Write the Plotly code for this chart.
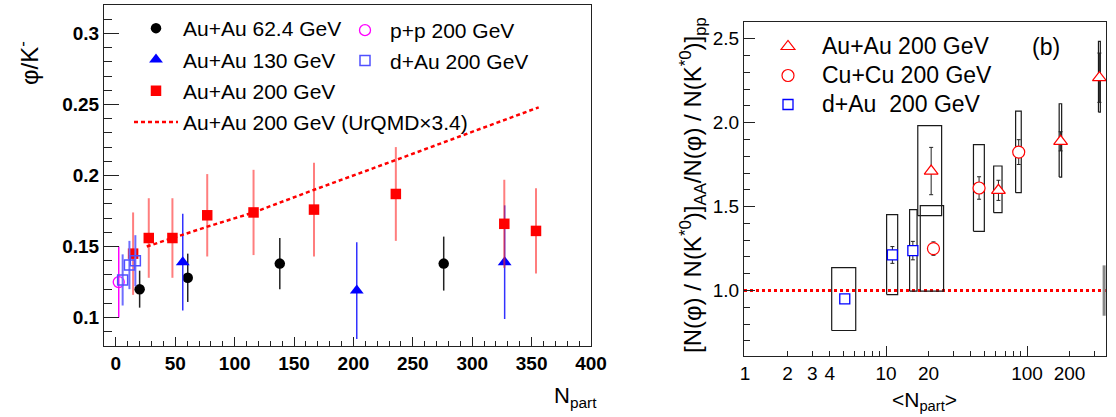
import plotly.graph_objects as go

# ---------------- Left panel data: phi/K- vs Npart ----------------
npart_624 = [20.0, 60.5, 138.0, 276.0]
ratio_624 = [0.120, 0.128, 0.138, 0.138]
err_624 = [0.013, 0.017, 0.018, 0.019]

npart_130 = [56.3, 202.8, 327.3]
ratio_130 = [0.139, 0.119, 0.139]
err_130 = [0.034, 0.034, 0.040]

npart_200 = [14.5, 27.7, 47.6, 76.9, 115.9, 166.8, 235.7, 327.0, 353.7]
ratio_200 = [0.145, 0.156, 0.156, 0.172, 0.174, 0.176, 0.187, 0.166, 0.161]
err_200 = [0.029, 0.028, 0.028, 0.029, 0.030, 0.033, 0.033, 0.031, 0.030]

npart_pp = [2.4]
ratio_pp = [0.125]
err_pp = [0.025]

npart_dau_l = [5.7, 11.4, 16.4]
ratio_dau_l = [0.1265, 0.137, 0.140]
err_dau_l = [0.018, 0.017, 0.018]

npart_urqmd = [26, 48, 77, 116, 167, 236, 356]
ratio_urqmd = [0.150, 0.156, 0.164, 0.174, 0.190, 0.211, 0.248]

left_xticks = [0, 50, 100, 150, 200, 250, 300, 350, 400]
left_yticks = [0.1, 0.15, 0.2, 0.25, 0.3]
left_yticktext = ["0.1", "0.15", "0.2", "0.25", "0.3"]

# ---------------- Right panel data: double ratio vs <Npart> ----------------
npart_auau = [20.9, 62.7, 173.0, 326.0]
dr_auau = [1.712, 1.597, 1.889, 2.268]
stat_auau = [0.141, 0.060, 0.057, 0.147]
sys_auau_xlo = [16.8, 58.0, 169.0, 321.0]
sys_auau_xhi = [24.8, 66.5, 176.0, 331.0]
sys_auau_ylo = [1.446, 1.464, 1.676, 2.063]
sys_auau_yhi = [1.982, 1.742, 2.113, 2.484]

npart_cucu = [21.7, 45.7, 87.3]
dr_cucu = [1.250, 1.611, 1.825]
stat_cucu = [0.040, 0.067, 0.074]
sys_cucu_xlo = [17.5, 41.7, 83.0]
sys_cucu_xhi = [25.6, 49.8, 91.0]
sys_cucu_ylo = [0.996, 1.353, 1.583]
sys_cucu_yhi = [1.506, 1.869, 2.069]

npart_dau = [5.1, 11.1, 15.5]
dr_dau = [0.950, 1.212, 1.238]
stat_dau = [0.020, 0.050, 0.055]
sys_dau_xlo = [4.12, 10.1, 14.7]
sys_dau_xhi = [6.1, 12.1, 16.6]
sys_dau_ylo = [0.762, 0.976, 0.996]
sys_dau_yhi = [1.137, 1.452, 1.482]

norm_x = [352.0]
norm_center = [1.0]
norm_err = [0.15]

right_xticks = [1, 2, 3, 4, 10, 20, 100, 200]
right_xlong = [1, 10, 100]
right_xminor = [5, 6, 7, 8, 9, 30, 40, 50, 60, 70, 80, 90, 300]
right_yticks = [1.0, 1.5, 2.0, 2.5]
right_yticktext = ["1.0", "1.5", "2.0", "2.5"]

W, H = 1116, 417
FONT = "Liberation Sans, Arial, Helvetica, sans-serif"


def px_x(p):
    return p / W


def px_y(p):
    return 1 - p / H


fig = go.Figure()

# ---- left panel traces ----
fig.add_trace(go.Scatter(
    x=npart_624, y=ratio_624, mode="markers", name="Au+Au 62.4 GeV",
    marker=dict(symbol="circle", size=10.5, color="black"),
    error_y=dict(type="data", array=err_624, color="#222222", thickness=1.5, width=0),
    xaxis="x", yaxis="y", legend="legend", legendgroup="a"))
fig.add_trace(go.Scatter(
    x=npart_130, y=ratio_130, mode="markers", name="Au+Au 130 GeV",
    marker=dict(symbol="triangle-up", size=12, color="blue"),
    error_y=dict(type="data", array=err_130, color="rgb(50,50,255)", thickness=1.5, width=0),
    xaxis="x", yaxis="y", legend="legend", legendgroup="b"))
fig.add_trace(go.Scatter(
    x=npart_200, y=ratio_200, mode="markers", name="Au+Au 200 GeV",
    marker=dict(symbol="square", size=10.5, color="red"),
    error_y=dict(type="data", array=err_200, color="rgba(255,40,40,0.6)", thickness=2, width=0),
    xaxis="x", yaxis="y", legend="legend", legendgroup="c"))
fig.add_trace(go.Scatter(
    x=npart_urqmd, y=ratio_urqmd, mode="lines", name="Au+Au 200 GeV (UrQMD\u00d73.4)",
    line=dict(color="red", width=2.5, dash="4px,3px"),
    xaxis="x", yaxis="y", legend="legend", legendgroup="d"))
fig.add_trace(go.Scatter(
    x=npart_pp, y=ratio_pp, mode="markers", name="p+p 200 GeV",
    marker=dict(symbol="circle-open", size=11, color="magenta", line=dict(width=1.3)),
    error_y=dict(type="data", array=err_pp, color="magenta", thickness=1.5, width=0),
    xaxis="x", yaxis="y", legend="legend2"))
fig.add_trace(go.Scatter(
    x=npart_dau_l, y=ratio_dau_l, mode="markers", name="d+Au 200 GeV",
    marker=dict(symbol="square-open", size=10, color="rgb(80,80,255)", line=dict(width=1.5)),
    error_y=dict(type="data", array=err_dau_l, color="rgb(110,110,255)", thickness=2, width=0),
    xaxis="x", yaxis="y", legend="legend2"))

# ---- right panel: systematic boxes ----
bx, by = [], []
for xlo, xhi, ylo, yhi in zip(sys_dau_xlo + sys_cucu_xlo + sys_auau_xlo,
                              sys_dau_xhi + sys_cucu_xhi + sys_auau_xhi,
                              sys_dau_ylo + sys_cucu_ylo + sys_auau_ylo,
                              sys_dau_yhi + sys_cucu_yhi + sys_auau_yhi):
    bx += [xlo, xhi, xhi, xlo, xlo, None]
    by += [ylo, ylo, yhi, yhi, ylo, None]
fig.add_trace(go.Scatter(
    x=bx, y=by, mode="lines", line=dict(color="#1a1a1a", width=1.2),
    showlegend=False, hoverinfo="skip", xaxis="x2", yaxis="y2"))

# normalization uncertainty bar
fig.add_trace(go.Scatter(
    x=norm_x + norm_x, y=[norm_center[0] - norm_err[0], norm_center[0] + norm_err[0]],
    mode="lines", line=dict(color="#888888", width=3),
    showlegend=False, hoverinfo="skip", xaxis="x2", yaxis="y2"))

fig.add_trace(go.Scatter(
    x=npart_auau, y=dr_auau, mode="markers", name='<span style="font-size:23px">Au+Au 200 GeV</span>',
    marker=dict(symbol="triangle-up", size=12, color="white", line=dict(width=1.2, color="red")),
    error_y=dict(type="data", array=stat_auau, color="#222222", thickness=1, width=2),
    xaxis="x2", yaxis="y2", legend="legend3"))
fig.add_trace(go.Scatter(
    x=npart_cucu, y=dr_cucu, mode="markers", name='<span style="font-size:23px">Cu+Cu 200 GeV</span>',
    marker=dict(symbol="circle", size=12, color="white", line=dict(width=1.2, color="red")),
    error_y=dict(type="data", array=stat_cucu, color="#222222", thickness=1, width=2),
    xaxis="x2", yaxis="y2", legend="legend3"))
fig.add_trace(go.Scatter(
    x=npart_dau, y=dr_dau, mode="markers", name='<span style="font-size:23px">d+Au\u00a0 200 GeV</span>',
    marker=dict(symbol="square", size=10, color="white", line=dict(width=1.3, color="blue")),
    error_y=dict(type="data", array=stat_dau, color="#222222", thickness=1, width=2),
    xaxis="x2", yaxis="y2", legend="legend3"))

# empty trace to host the long-tick overlay axis
fig.add_trace(go.Scatter(x=[], y=[], xaxis="x3", yaxis="y2", showlegend=False, hoverinfo="skip"))

axis_common = dict(showline=True, linecolor="#222222", linewidth=1, mirror=True,
                   showgrid=False, zeroline=False, ticks="inside", tickcolor="#222222")

fig.update_layout(
    width=W, height=H, autosize=False,
    margin=dict(l=0, r=0, t=0, b=0, pad=0, autoexpand=False),
    paper_bgcolor="white", plot_bgcolor="white",
    font=dict(family=FONT, color="black"),
    xaxis=dict(domain=[px_x(104), px_x(591)], anchor="y", range=[-10, 400],
               tickvals=left_xticks, ticklen=9,
               minor=dict(dtick=10, tick0=0, ticks="inside", ticklen=5, tickcolor="#222222"),
               tickfont=dict(size=19, family="Liberation Sans, Arial", weight="bold"),
               **axis_common),
    yaxis=dict(domain=[px_y(346), px_y(5)], anchor="x", range=[0.08, 0.32],
               tickvals=left_yticks, ticktext=left_yticktext, ticklen=15,
               minor=dict(dtick=0.01, tick0=0, ticks="inside", ticklen=8, tickcolor="#222222"),
               tickfont=dict(size=19, family="Liberation Sans, Arial", weight="bold"),
               **axis_common),
    xaxis2=dict(domain=[px_x(744), px_x(1106)], anchor="y2", type="log", range=[-0.007, 2.56],
                tickvals=right_xticks, ticktext=[str(v) for v in right_xticks], ticklen=5,
                minor=dict(tickvals=right_xminor, ticks="inside", ticklen=5, tickcolor="#222222"),
                tickfont=dict(size=19), **axis_common),
    xaxis3=dict(domain=[px_x(744), px_x(1106)], anchor="y2", overlaying="x2", type="log",
                range=[-0.007, 2.56], tickvals=right_xlong, ticklen=10, ticks="inside",
                tickcolor="#222222", showticklabels=False, showline=False, showgrid=False,
                zeroline=False, side="bottom"),
    yaxis2=dict(domain=[px_y(356), px_y(22)], anchor="x2", range=[0.61, 2.6],
                tickvals=right_yticks, ticktext=right_yticktext, ticklen=11,
                minor=dict(dtick=0.1, tick0=0, ticks="inside", ticklen=6, tickcolor="#222222"),
                tickfont=dict(size=19), **axis_common),
    legend=dict(x=px_x(129), y=px_y(8), xanchor="left", yanchor="top",
                bgcolor="rgba(0,0,0,0)", borderwidth=0, font=dict(size=21),
                itemwidth=44, tracegroupgap=1, traceorder="grouped"),
    legend2=dict(x=px_x(340), y=px_y(10), xanchor="left", yanchor="top",
                 bgcolor="rgba(0,0,0,0)", borderwidth=0, font=dict(size=21),
                 itemwidth=40),
    legend3=dict(x=px_x(754), y=px_y(27), xanchor="left", yanchor="top",
                 bgcolor="rgba(0,0,0,0)", borderwidth=0, font=dict(size=20),
                 itemwidth=58),
    shapes=[dict(type="line", xref="x2 domain", yref="y2", x0=0, x1=1, y0=1.0, y1=1.0,
                 line=dict(color="red", width=3, dash="dot"), layer="below")],
    annotations=[
        dict(text="\u03c6/K<sup>-</sup>", x=px_x(28), y=px_y(63), xref="paper", yref="paper",
             textangle=-90, showarrow=False, font=dict(size=24), xanchor="center", yanchor="middle"),
        dict(text="N<sub>part</sub>", x=px_x(599), y=px_y(397), xref="paper", yref="paper",
             showarrow=False, font=dict(size=22), xanchor="right", yanchor="middle"),
        dict(text="&lt;N<sub>part</sub>&gt;", x=px_x(924), y=px_y(401), xref="paper", yref="paper",
             showarrow=False, font=dict(size=21), xanchor="center", yanchor="middle"),
        dict(text="[N(\u03c6) / N(K<sup>*0</sup>)]<sub>AA</sub>/N(\u03c6) / N(K<sup>*0</sup>)]<sub>pp</sub>",
             x=px_x(693), y=px_y(185), xref="paper", yref="paper", textangle=-90,
             showarrow=False, font=dict(size=24), xanchor="center", yanchor="middle"),
        dict(text="(b)", x=px_x(1046), y=px_y(47), xref="paper", yref="paper",
             showarrow=False, font=dict(size=23), xanchor="center", yanchor="middle"),
    ],
)

fig.write_html(
    "out.html",
    config={"responsive": False, "displayModeBar": False},
    post_script=(
        "var s=document.documentElement.style; s.margin='0'; s.padding='0'; s.overflow='hidden';"
        "var b=document.body.style; b.margin='0'; b.padding='0'; b.overflow='hidden';"
    ),
)
